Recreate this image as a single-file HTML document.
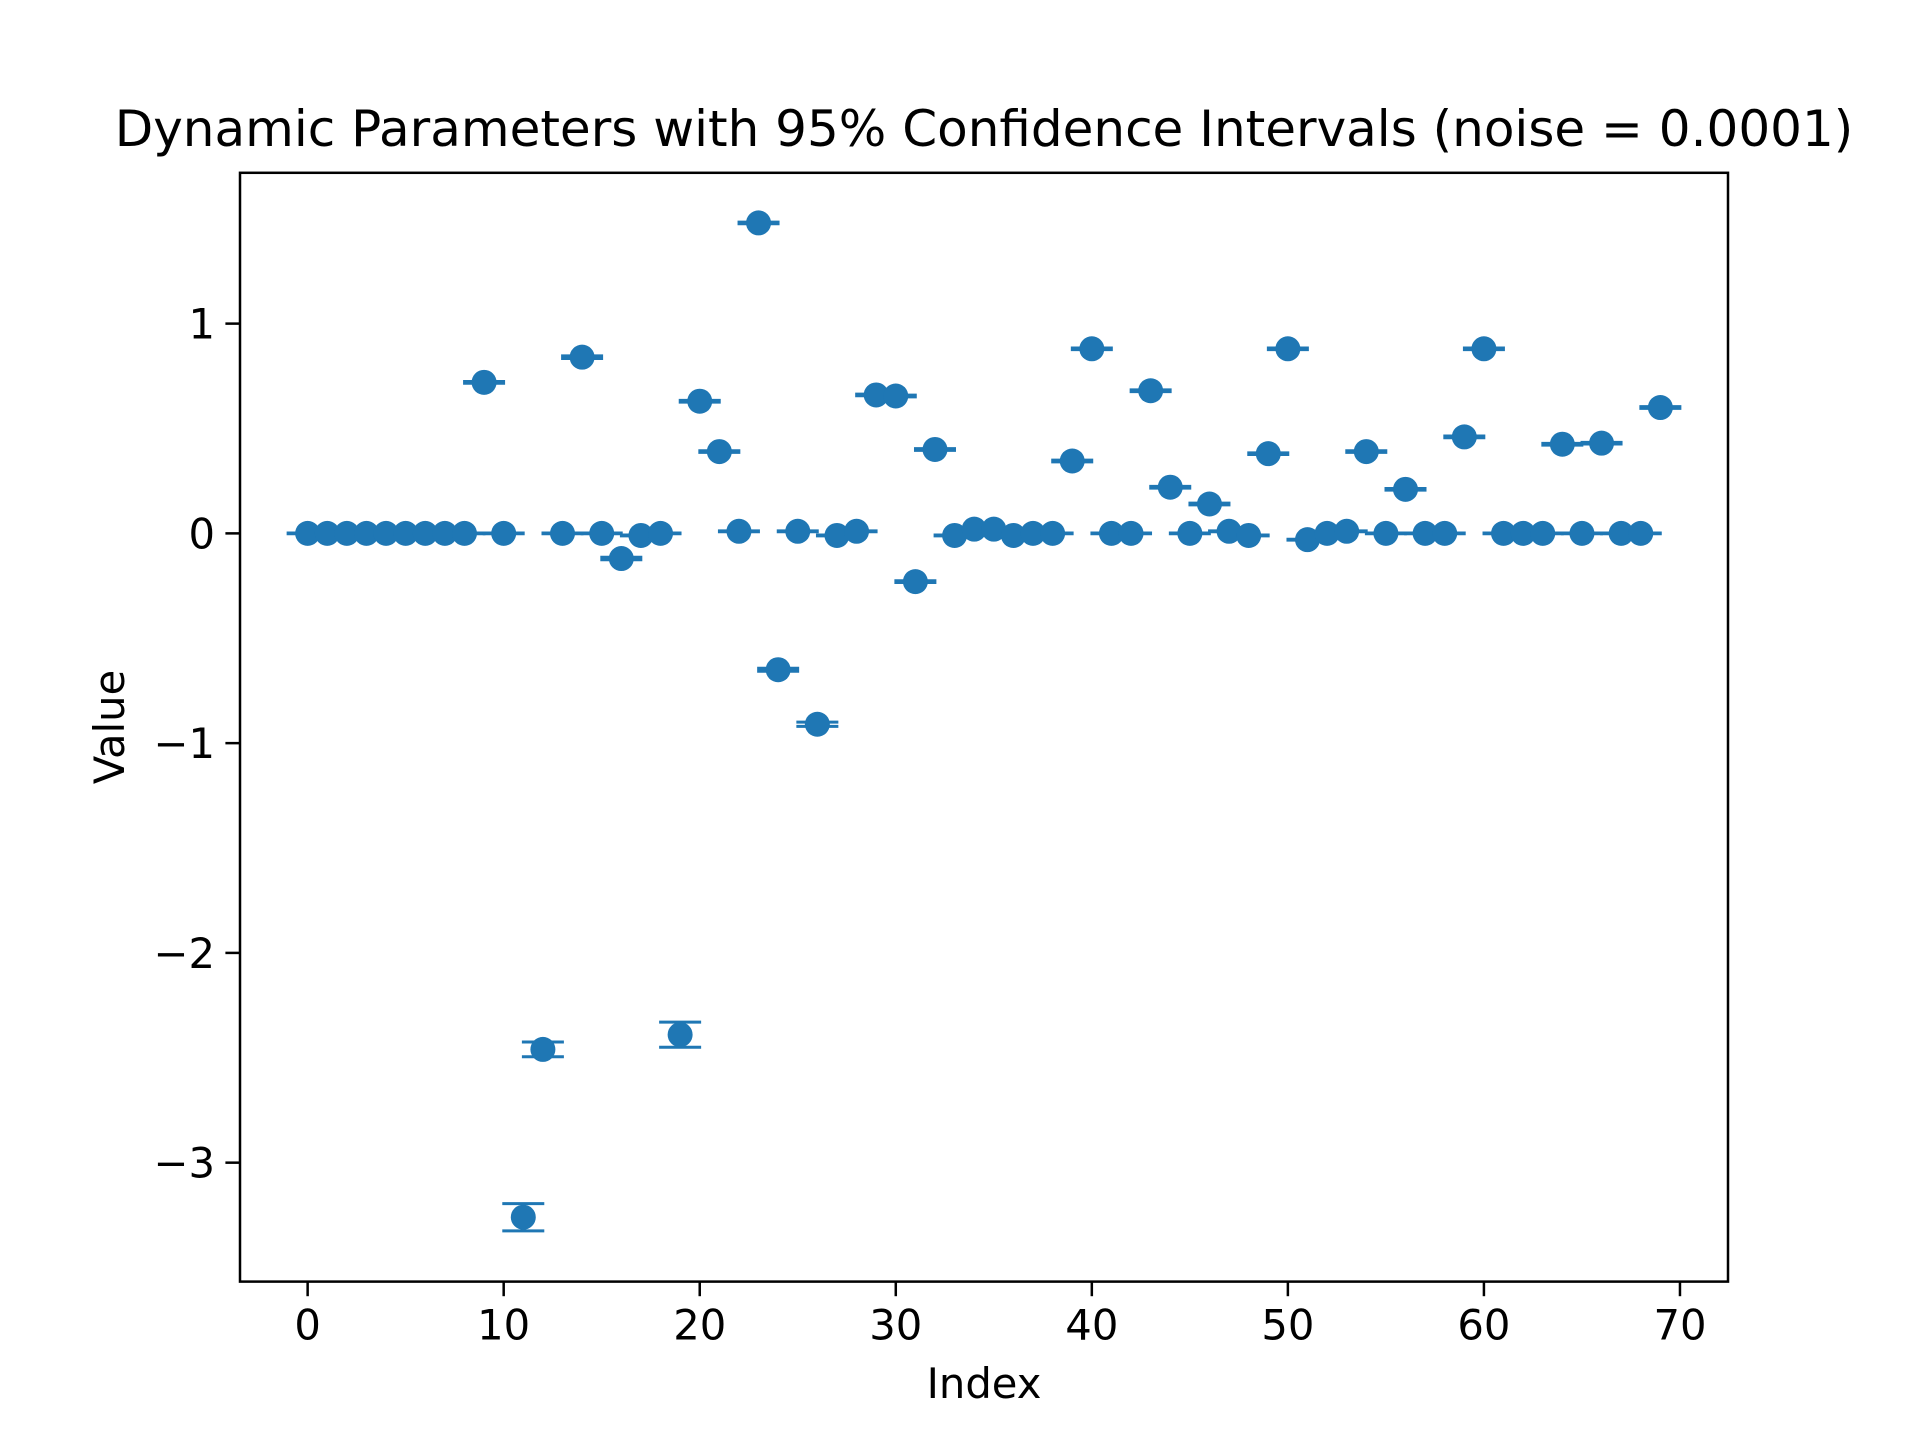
<!DOCTYPE html>
<html><head><meta charset="utf-8"><style>
html,body{margin:0;padding:0;background:#fff;}
svg text{font-family:"DejaVu Sans","Liberation Sans",sans-serif;fill:#000;}
</style></head><body>
<svg id="chart" width="1920" height="1440" viewBox="0 0 1920 1440" xmlns="http://www.w3.org/2000/svg">
<rect width="1920" height="1440" fill="#fff"/>
<text x="984" y="146" font-size="50" text-anchor="middle">Dynamic Parameters with 95% Confidence Intervals (noise = 0.0001)</text>
<g id="plot"></g>
<rect x="240" y="172.8" width="1488" height="1108.8" fill="none" stroke="#000" stroke-width="2.5"/>
<text x="984" y="1398" font-size="41.7" text-anchor="middle">Index</text>
<text transform="translate(124,727) rotate(-90)" font-size="41.7" text-anchor="middle">Value</text>
</svg>
<script>
const values = [0,0,0,0,0,0,0,0,0,0.72,0,-3.26,-2.46,0,0.84,0,-0.12,-0.01,0,-2.39,0.63,0.39,0.01,1.48,-0.65,0.01,-0.91,-0.01,0.01,0.66,0.655,-0.23,0.40,-0.01,0.02,0.02,-0.01,0,0,0.345,0.88,0,0,0.68,0.22,0,0.14,0.01,-0.01,0.38,0.88,-0.03,0,0.01,0.39,0,0.21,0,0,0.46,0.88,0,0,0,0.425,0,0.43,0,0,0.60];
const errors = [0.002,0.002,0.002,0.002,0.002,0.002,0.002,0.002,0.002,0.004,0.002,0.065,0.035,0.002,0.006,0.002,0.006,0.002,0.002,0.06,0.004,0.004,0.002,0.004,0.007,0.002,0.01,0.002,0.002,0.004,0.004,0.004,0.004,0.002,0.002,0.002,0.002,0.002,0.002,0.004,0.004,0.002,0.002,0.004,0.004,0.002,0.004,0.002,0.002,0.004,0.004,0.002,0.002,0.002,0.004,0.002,0.004,0.002,0.002,0.004,0.004,0.002,0.002,0.002,0.004,0.002,0.004,0.002,0.002,0.004];
const xTicks = [0,10,20,30,40,50,60,70];
const yTicks = [-3,-2,-1,0,1];
const yTickLabels = ["\u22123","\u22122","\u22121","0","1"];
const X0=240,X1=1728,Y0=172.8,Y1=1281.6;
const xmin=-3.45,xmax=72.45,ymin=-3.567,ymax=1.719;
const sx=v=>X0+(v-xmin)/(xmax-xmin)*(X1-X0);
const sy=v=>Y1-(v-ymin)/(ymax-ymin)*(Y1-Y0);
const NS="http://www.w3.org/2000/svg";
const g=document.getElementById('plot');
function mk(tag,attrs,parent){const e=document.createElementNS(NS,tag);for(const k in attrs)e.setAttribute(k,attrs[k]);(parent||g).appendChild(e);return e;}
const col="#1f77b4";
xTicks.forEach(t=>{
 const l=mk('line',{x1:sx(t),x2:sx(t),y1:Y1,y2:Y1+14.6,stroke:'#000','stroke-width':2.5});
 
 
 const tx=mk('text',{x:sx(t),y:Y1+58,'font-size':41.7,'text-anchor':'middle'});
 tx.textContent=t;
 
 
});
yTicks.forEach((t,i)=>{
 const l=mk('line',{x1:X0-14.6,x2:X0,y1:sy(t),y2:sy(t),stroke:'#000','stroke-width':2.5});
 
 
 const tx=mk('text',{x:X0-25,y:sy(t)+15,'font-size':41.7,'text-anchor':'end'});
 tx.textContent=yTickLabels[i];
 
 
});
values.forEach((v,i)=>{
 const x=sx(i),yt=sy(v+errors[i]),yb=sy(v-errors[i]);
 const e=mk('path',{d:`M${x},${yt}L${x},${yb}M${x-21},${yt}L${x+21},${yt}M${x-21},${yb}L${x+21},${yb}`,stroke:col,'stroke-width':3,fill:'none'});
 
 
});
values.forEach((v,i)=>{
 const c=mk('circle',{cx:sx(i),cy:sy(v),r:12.5,fill:col});
 
 
});
</script>
</body></html>
